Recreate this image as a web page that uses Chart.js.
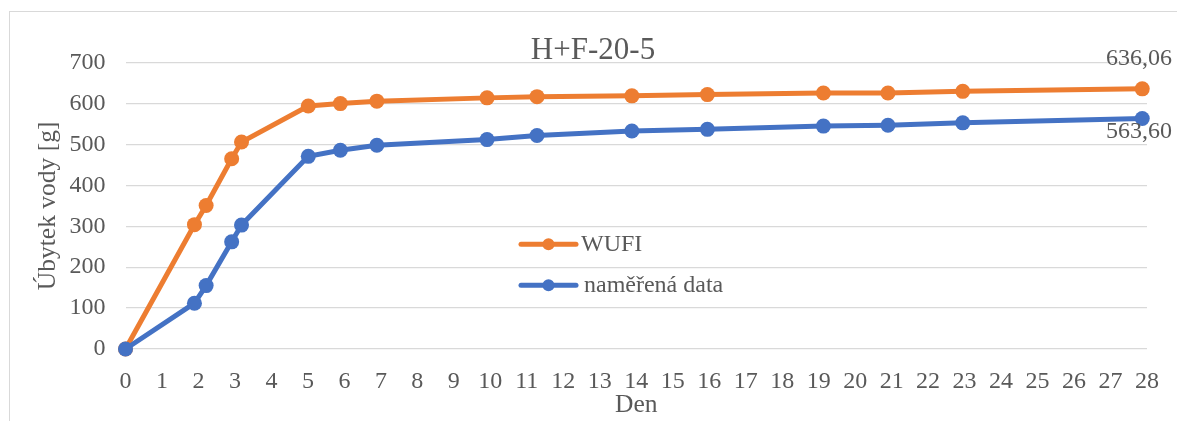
<!DOCTYPE html>
<html>
<head>
<meta charset="utf-8">
<script src="https://cdn.jsdelivr.net/npm/chart.js@4"></script>
<style>
  html, body { margin: 0; padding: 0; background: #fff; overflow: hidden; }
  #frame { position: absolute; left: 9px; top: 11px; width: 1200px; height: 450px;
           border: 1.5px solid #d9d9d9; box-sizing: border-box; }
  #wrap { position: absolute; left: 0; top: 0; width: 1177px; height: 421px; }
</style>
</head>
<body>
<div id="frame"></div>
<div id="wrap"><canvas id="c" width="1177" height="421"></canvas></div>
<script>
// Measurement days and cumulative water loss [g]
const days     = [0, 1.89, 2.21, 2.91, 3.18, 5.01, 5.89, 6.89, 9.91, 11.28, 13.88, 15.95, 19.13, 20.90, 22.95, 27.87];
const wufi     = [0, 304, 351, 465, 506, 594, 600, 606, 614, 617, 619, 622, 626, 626, 630, 636.06];
const measured = [0, 112, 155, 262, 303, 471, 486, 498, 512, 522, 533, 537, 545, 547, 553, 563.60];
const seriesNames = ['WUFI', 'naměřená data'];
const seriesColors = ['#ED7D31', '#4472C4'];
const xTickValues = Array.from({ length: 29 }, (_, i) => i);   // 0 … 28
const yTickValues = [0, 100, 200, 300, 400, 500, 600, 700];

const FONT = "'Liberation Serif', 'Times New Roman', serif";
const TEXT = '#595959';

// Value label on the last point of each series (decimal comma)
const lastValueLabels = {
  id: 'lastValueLabels',
  afterDatasetsDraw(chart) {
    const ctx = chart.ctx;
    ctx.save();
    ctx.font = `24px ${FONT}`;
    ctx.fillStyle = TEXT;
    ctx.textAlign = 'center';
    ctx.textBaseline = 'middle';
    chart.data.datasets.forEach((ds, i) => {
      const meta = chart.getDatasetMeta(i);
      const last = meta.data[meta.data.length - 1];
      const v = ds.data[ds.data.length - 1].y;
      const txt = v.toFixed(2).replace('.', ',');
      const w = ctx.measureText(txt).width;
      const cx = Math.min(last.x, chart.width - 5 - w / 2);
      const cy = ds.labelSide === 'above' ? last.y - 30 : last.y + 13.5;
      ctx.fillText(txt, cx, cy);
    });
    ctx.restore();
  }
};

// Legend placed inside the plot area
const innerLegend = {
  id: 'innerLegend',
  afterDraw(chart) {
    const ctx = chart.ctx;
    const a = chart.chartArea;
    const x0 = a.left + 395.5;
    const rows = [a.top + 181.5, a.top + 222.5];
    ctx.save();
    ctx.font = `24px ${FONT}`;
    ctx.textBaseline = 'middle';
    ctx.textAlign = 'left';
    chart.data.datasets.forEach((ds, i) => {
      const y = rows[i];
      ctx.strokeStyle = ds.borderColor;
      ctx.lineWidth = 5;
      ctx.lineCap = 'round';
      ctx.beginPath();
      ctx.moveTo(x0, y);
      ctx.lineTo(x0 + 55, y);
      ctx.stroke();
      ctx.fillStyle = ds.borderColor;
      ctx.beginPath();
      ctx.arc(x0 + 27.5, y, 6, 0, Math.PI * 2);
      ctx.fill();
      ctx.fillStyle = TEXT;
      ctx.fillText(ds.label, x0 + 60 + i * 3, y + 1);
    });
    ctx.restore();
  }
};

const toPoints = (ys) => ys.map((y, i) => ({ x: days[i], y }));

new Chart(document.getElementById('c'), {
  type: 'line',
  data: {
    datasets: [
      {
        label: seriesNames[0], data: toPoints(wufi), order: 1, labelSide: 'above',
        borderColor: seriesColors[0], backgroundColor: seriesColors[0],
        borderWidth: 5, pointRadius: 7.5, pointBorderWidth: 0, tension: 0, clip: false
      },
      {
        label: seriesNames[1], data: toPoints(measured), order: 0, labelSide: 'below',
        borderColor: seriesColors[1], backgroundColor: seriesColors[1],
        borderWidth: 5, pointRadius: 7.5, pointBorderWidth: 0, tension: 0, clip: false
      }
    ]
  },
  options: {
    responsive: false,
    animation: false,
    devicePixelRatio: 1,
    layout: { padding: { left: 33, right: 24, top: 0, bottom: 0 } },
    plugins: {
      legend: { display: false },
      tooltip: { enabled: false },
      title: {
        display: true, text: 'H+F-20-5', color: TEXT,
        font: { family: FONT, size: 31, weight: 'normal' },
        padding: { top: 32, bottom: -6.5 }
      }
    },
    scales: {
      x: {
        type: 'linear', min: 0, max: 28,
        afterBuildTicks: (s) => { s.ticks = xTickValues.map(v => ({ value: v })); },
        ticks: { color: TEXT, font: { family: FONT, size: 24 }, padding: 18, maxRotation: 0, autoSkip: false },
        grid: { display: false, drawTicks: false },
        border: { display: false },
        title: { display: true, text: 'Den', color: TEXT, font: { family: FONT, size: 25.5 }, padding: 0 },
        afterFit: (s) => { s.height = 72; }
      },
      y: {
        min: 0, max: 700,
        afterBuildTicks: (s) => { s.ticks = yTickValues.map(v => ({ value: v })); },
        ticks: { color: TEXT, font: { family: FONT, size: 24 }, padding: 20 },
        grid: { color: '#d9d9d9', lineWidth: 1.3, drawTicks: false },
        border: { display: false },
        title: { display: true, text: 'Úbytek vody [g]', color: TEXT, font: { family: FONT, size: 25.5 }, padding: 0 },
        afterFit: (s) => { s.width = 92.5; }
      }
    }
  },
  plugins: [lastValueLabels, innerLegend]
});
</script>
</body>
</html>
